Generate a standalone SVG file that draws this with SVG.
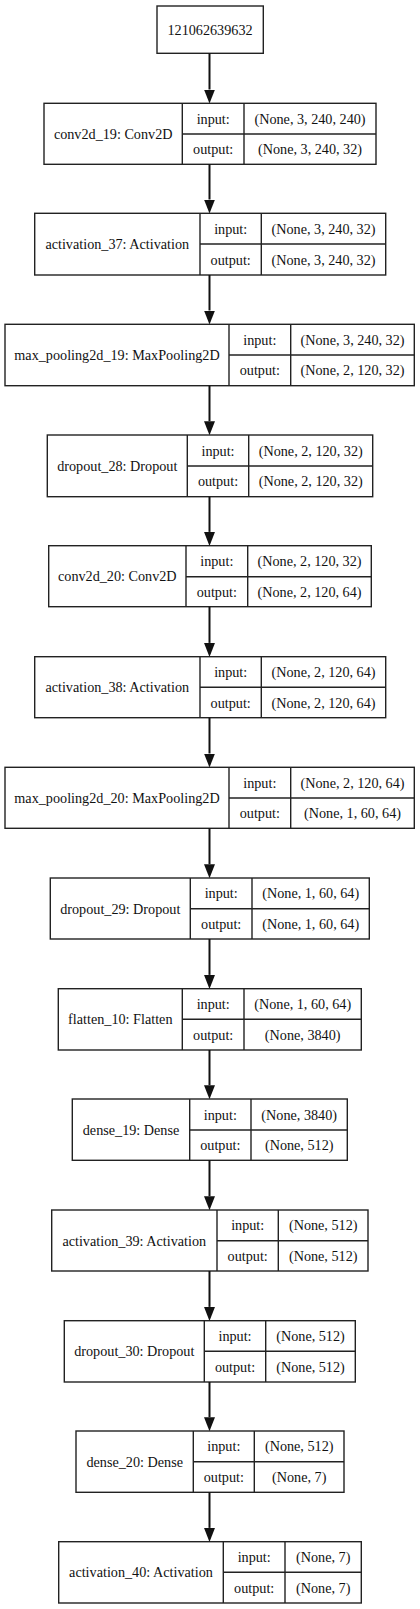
<svg xmlns="http://www.w3.org/2000/svg" width="420" height="1609" viewBox="0 0 420 1609">
<style>
g rect,line.d{fill:#fff;stroke:#222;stroke-width:1.4}
line.d{fill:none}
text{font-family:"Liberation Serif","Times New Roman",serif;font-size:14.2px;fill:#111;text-anchor:middle}
.e line{stroke:#111;stroke-width:2}
</style>
<defs>
<marker id="ah" viewBox="0 0 14 11" markerWidth="14" markerHeight="11" refX="0" refY="5.5" orient="auto" markerUnits="userSpaceOnUse">
<path d="M0,0 L14,5.5 L0,11 z" fill="#111"/>
</marker>
</defs>
<rect width="420" height="1609" style="fill:#fff;stroke:none"/>
<g id="input_node">
<rect x="157" y="6" width="106.3" height="47.3"/>
<text x="210" y="34.5">121062639632</text>
</g>
<g id="n1"><rect x="44" y="103.3" width="332" height="61"/><line class="d" x1="182.3" y1="103.3" x2="182.3" y2="164.3"/><line class="d" x1="244" y1="103.3" x2="244" y2="164.3"/><line class="d" x1="182.3" y1="134" x2="376" y2="134"/>
<text x="113.2" y="138.8">conv2d_19: Conv2D</text><text x="213.2" y="123.6">input:</text><text x="213.2" y="154.2">output:</text><text x="310" y="123.6">(None, 3, 240, 240)</text><text x="310" y="154.2">(None, 3, 240, 32)</text></g>
<g id="n2"><rect x="34.7" y="213.3" width="351" height="61.7"/><line class="d" x1="200" y1="213.3" x2="200" y2="275"/><line class="d" x1="261.3" y1="213.3" x2="261.3" y2="275"/><line class="d" x1="200" y1="244" x2="385.7" y2="244"/>
<text x="117.3" y="249">activation_37: Activation</text><text x="230.7" y="233.7">input:</text><text x="230.7" y="264.5">output:</text><text x="323.5" y="233.7">(None, 3, 240, 32)</text><text x="323.5" y="264.5">(None, 3, 240, 32)</text></g>
<g id="n3"><rect x="5" y="324.3" width="409.3" height="61.4"/><line class="d" x1="229" y1="324.3" x2="229" y2="385.7"/><line class="d" x1="290.7" y1="324.3" x2="290.7" y2="385.7"/><line class="d" x1="229" y1="355" x2="414.3" y2="355"/>
<text x="117" y="360">max_pooling2d_19: MaxPooling2D</text><text x="259.8" y="344.6">input:</text><text x="259.8" y="375.3">output:</text><text x="352.5" y="344.6">(None, 3, 240, 32)</text><text x="352.5" y="375.3">(None, 2, 120, 32)</text></g>
<g id="n4"><rect x="47.3" y="435" width="325.4" height="61.7"/><line class="d" x1="187.3" y1="435" x2="187.3" y2="496.7"/><line class="d" x1="248.7" y1="435" x2="248.7" y2="496.7"/><line class="d" x1="187.3" y1="466" x2="372.7" y2="466"/>
<text x="117.3" y="470.8">dropout_28: Dropout</text><text x="218" y="455.5">input:</text><text x="218" y="486.3">output:</text><text x="310.7" y="455.5">(None, 2, 120, 32)</text><text x="310.7" y="486.3">(None, 2, 120, 32)</text></g>
<g id="n5"><rect x="48.7" y="545.7" width="322.6" height="61"/><line class="d" x1="186" y1="545.7" x2="186" y2="606.7"/><line class="d" x1="247.7" y1="545.7" x2="247.7" y2="606.7"/><line class="d" x1="186" y1="576.7" x2="371.3" y2="576.7"/>
<text x="117.3" y="581.2">conv2d_20: Conv2D</text><text x="216.8" y="566.2">input:</text><text x="216.8" y="596.7">output:</text><text x="309.5" y="566.2">(None, 2, 120, 32)</text><text x="309.5" y="596.7">(None, 2, 120, 64)</text></g>
<g id="n6"><rect x="34.7" y="656.7" width="351" height="61"/><line class="d" x1="200" y1="656.7" x2="200" y2="717.7"/><line class="d" x1="261.3" y1="656.7" x2="261.3" y2="717.7"/><line class="d" x1="200" y1="687.3" x2="385.7" y2="687.3"/>
<text x="117.3" y="692.2">activation_38: Activation</text><text x="230.7" y="677">input:</text><text x="230.7" y="707.5">output:</text><text x="323.5" y="677">(None, 2, 120, 64)</text><text x="323.5" y="707.5">(None, 2, 120, 64)</text></g>
<g id="n7"><rect x="5" y="767.3" width="409.3" height="61"/><line class="d" x1="229" y1="767.3" x2="229" y2="828.3"/><line class="d" x1="290.7" y1="767.3" x2="290.7" y2="828.3"/><line class="d" x1="229" y1="798" x2="414.3" y2="798"/>
<text x="117" y="802.8">max_pooling2d_20: MaxPooling2D</text><text x="259.8" y="787.6">input:</text><text x="259.8" y="818.2">output:</text><text x="352.5" y="787.6">(None, 2, 120, 64)</text><text x="352.5" y="818.2">(None, 1, 60, 64)</text></g>
<g id="n8"><rect x="50.3" y="878" width="319" height="61"/><line class="d" x1="190.3" y1="878" x2="190.3" y2="939"/><line class="d" x1="252" y1="878" x2="252" y2="939"/><line class="d" x1="190.3" y1="908.7" x2="369.3" y2="908.7"/>
<text x="120.3" y="913.5">dropout_29: Dropout</text><text x="221.2" y="898.3">input:</text><text x="221.2" y="928.8">output:</text><text x="310.7" y="898.3">(None, 1, 60, 64)</text><text x="310.7" y="928.8">(None, 1, 60, 64)</text></g>
<g id="n9"><rect x="58.3" y="988.7" width="303" height="61.3"/><line class="d" x1="182.3" y1="988.7" x2="182.3" y2="1050"/><line class="d" x1="244" y1="988.7" x2="244" y2="1050"/><line class="d" x1="182.3" y1="1019.3" x2="361.3" y2="1019.3"/>
<text x="120.3" y="1024.2">flatten_10: Flatten</text><text x="213.2" y="1009">input:</text><text x="213.2" y="1039.6">output:</text><text x="302.7" y="1009">(None, 1, 60, 64)</text><text x="302.7" y="1039.6">(None, 3840)</text></g>
<g id="n10"><rect x="72.3" y="1099" width="275" height="61.3"/><line class="d" x1="189.7" y1="1099" x2="189.7" y2="1160.3"/><line class="d" x1="251" y1="1099" x2="251" y2="1160.3"/><line class="d" x1="189.7" y1="1130" x2="347.3" y2="1130"/>
<text x="131" y="1134.7">dense_19: Dense</text><text x="220.3" y="1119.5">input:</text><text x="220.3" y="1150.2">output:</text><text x="299.2" y="1119.5">(None, 3840)</text><text x="299.2" y="1150.2">(None, 512)</text></g>
<g id="n11"><rect x="51.7" y="1210" width="316.3" height="61"/><line class="d" x1="217" y1="1210" x2="217" y2="1271"/><line class="d" x1="278.3" y1="1210" x2="278.3" y2="1271"/><line class="d" x1="217" y1="1240.7" x2="368" y2="1240.7"/>
<text x="134.3" y="1245.5">activation_39: Activation</text><text x="247.7" y="1230.3">input:</text><text x="247.7" y="1260.9">output:</text><text x="323.2" y="1230.3">(None, 512)</text><text x="323.2" y="1260.9">(None, 512)</text></g>
<g id="n12"><rect x="64.3" y="1320.7" width="291" height="61.3"/><line class="d" x1="204.3" y1="1320.7" x2="204.3" y2="1382"/><line class="d" x1="265.7" y1="1320.7" x2="265.7" y2="1382"/><line class="d" x1="204.3" y1="1351.3" x2="355.3" y2="1351.3"/>
<text x="134.3" y="1356.2">dropout_30: Dropout</text><text x="235" y="1341">input:</text><text x="235" y="1371.7">output:</text><text x="310.5" y="1341">(None, 512)</text><text x="310.5" y="1371.7">(None, 512)</text></g>
<g id="n13"><rect x="76" y="1431" width="268" height="61.3"/><line class="d" x1="193.3" y1="1431" x2="193.3" y2="1492.3"/><line class="d" x1="254.3" y1="1431" x2="254.3" y2="1492.3"/><line class="d" x1="193.3" y1="1461.7" x2="344" y2="1461.7"/>
<text x="134.7" y="1466.5">dense_20: Dense</text><text x="223.8" y="1451.3">input:</text><text x="223.8" y="1482">output:</text><text x="299.2" y="1451.3">(None, 512)</text><text x="299.2" y="1482">(None, 7)</text></g>
<g id="n14"><rect x="58.7" y="1541.7" width="302.6" height="61.3"/><line class="d" x1="223.3" y1="1541.7" x2="223.3" y2="1603"/><line class="d" x1="285" y1="1541.7" x2="285" y2="1603"/><line class="d" x1="223.3" y1="1572.3" x2="361.3" y2="1572.3"/>
<text x="141" y="1577.2">activation_40: Activation</text><text x="254.2" y="1562">input:</text><text x="254.2" y="1592.6">output:</text><text x="323.2" y="1562">(None, 7)</text><text x="323.2" y="1592.6">(None, 7)</text></g>
<g id="edges" class="e">
<line x1="209.5" y1="53.3" x2="209.5" y2="89.5" marker-end="url(#ah)"/>
<line x1="209.5" y1="164.3" x2="209.5" y2="199.5" marker-end="url(#ah)"/>
<line x1="209.5" y1="275" x2="209.5" y2="310.5" marker-end="url(#ah)"/>
<line x1="209.5" y1="385.7" x2="209.5" y2="421.2" marker-end="url(#ah)"/>
<line x1="209.5" y1="496.7" x2="209.5" y2="531.9" marker-end="url(#ah)"/>
<line x1="209.5" y1="606.7" x2="209.5" y2="642.9" marker-end="url(#ah)"/>
<line x1="209.5" y1="717.7" x2="209.5" y2="753.5" marker-end="url(#ah)"/>
<line x1="209.5" y1="828.3" x2="209.5" y2="864.2" marker-end="url(#ah)"/>
<line x1="209.5" y1="939" x2="209.5" y2="974.9" marker-end="url(#ah)"/>
<line x1="209.5" y1="1050" x2="209.5" y2="1085.2" marker-end="url(#ah)"/>
<line x1="209.5" y1="1160.3" x2="209.5" y2="1196.2" marker-end="url(#ah)"/>
<line x1="209.5" y1="1271" x2="209.5" y2="1306.9" marker-end="url(#ah)"/>
<line x1="209.5" y1="1382" x2="209.5" y2="1417.2" marker-end="url(#ah)"/>
<line x1="209.5" y1="1492.3" x2="209.5" y2="1527.9" marker-end="url(#ah)"/>
</g>
</svg>
